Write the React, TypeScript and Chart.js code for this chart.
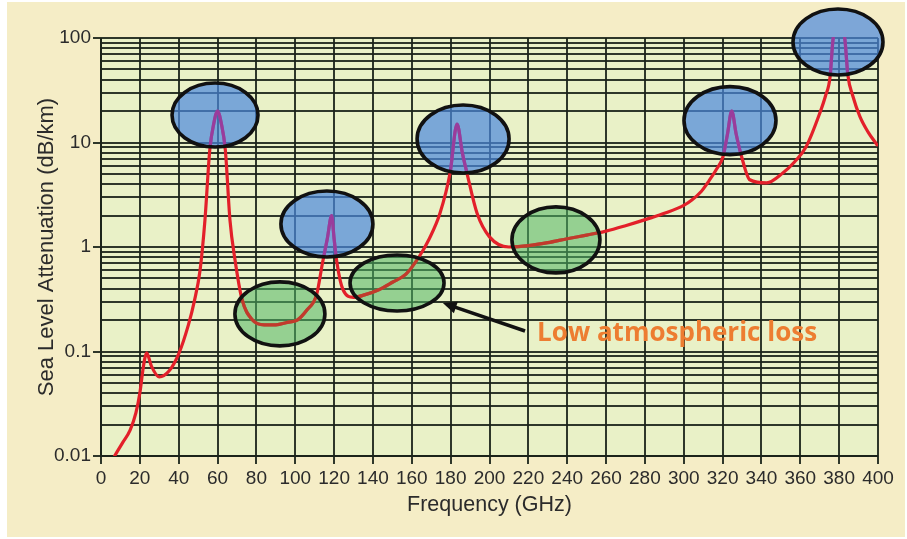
import { useEffect, useRef } from 'react';
import { Chart, registerables } from 'chart.js';

Chart.register(...registerables);

// Sea-level attenuation curve (frequency in GHz, attenuation in dB/km)
const frequencyGHz = [
  7, 11, 15, 18, 20, 21.5, 22.5, 23.5, 26, 30, 35,
  40, 45, 48, 51, 53.5, 56, 58, 60, 62, 64,
  66.4, 69, 72.5, 78, 84, 90, 96, 101, 106, 111,
  114, 116.5, 118.75, 120, 121.5, 124.6, 130, 136, 143, 150,
  157, 164, 169, 174.5, 179.7, 183.3, 186, 188.4, 193.6, 200,
  210, 220, 230, 240, 250, 260, 270, 283, 290, 300,
  304, 309, 313, 317, 320.2, 322.5, 324.7, 327, 329.8, 334, 342.7, 351,
  357, 363, 370, 373, 375.3, 376.8, 380, 383, 384.5, 387,
  390.7, 395, 399.5,
];
const attenuationDbKm = [
  0.01, 0.0133, 0.0177, 0.026, 0.04, 0.065, 0.085, 0.097, 0.072, 0.057, 0.065,
  0.095, 0.18, 0.3, 0.6, 1.8, 8.5, 15, 20, 15, 8.5,
  1.8, 0.75, 0.32, 0.2, 0.18, 0.18, 0.19, 0.2, 0.25, 0.35,
  0.7, 1.2, 2.0, 1.2, 0.7, 0.39, 0.33, 0.35, 0.39, 0.46,
  0.55, 0.82, 1.2, 2.1, 5.1, 15, 8, 5.1, 2.1, 1.25,
  1.0, 1.03, 1.1, 1.2, 1.3, 1.42, 1.6, 1.9, 2.1, 2.5,
  2.8, 3.4, 4.3, 5.6, 7.3, 12, 20, 12, 7.3, 4.4, 4.1, 5.1,
  6.5, 9.1, 19, 28, 42, 95, 180, 95, 44, 28,
  17.7, 12.5, 9.5,
];

// Axis ticks
const xMin = 0;
const xMax = 400;
const xStep = 20;
const yDecades = [0.01, 0.1, 1, 10];
const yDecadeSteps = [1, 2, 3, 4, 5, 6, 7, 8, 9];
const yTop = 100;
const yTickLabels = ['0.01', '0.1', '1', '10', '100'];

// Absorption peaks (blue) and transmission windows (green)
const peakGHz = [58.7, 116.3, 186.4, 323.8, 379.4];
const peakDb = [18.3, 1.66, 10.8, 16.2, 91.6];
const windowGHz = [92.1, 152.4, 234.2];
const windowDb = [0.229, 0.453, 1.17];

// Arrow pointing at a window, with its caption
const arrowTip = { ghz: 176, db: 0.291 };
const arrowTail = { ghz: 218.3, db: 0.157 };
const captionAt = { ghz: 224.5, db: 0.15 };
const captionText = 'Low atmospheric loss';

const gridColor = 'rgba(26,34,24,0.9)';
const textColor = '#2b2b2b';
const axisFont = 'Liberation Sans, Arial, sans-serif';

const yGridValues = [...yDecades.flatMap((d) => yDecadeSteps.map((s) => +(d * s).toPrecision(6))), yTop];

const isDecade = (v: number) => Math.abs(Math.log10(v) - Math.round(Math.log10(v))) < 1e-6;

const backdrop = {
  id: 'backdrop',
  beforeDraw(chart: any) {
    const { ctx, width, height, chartArea: a } = chart;
    ctx.save();
    ctx.fillStyle = '#ffffff';
    ctx.fillRect(0, 0, width, height);
    ctx.fillStyle = '#f5edc6';
    ctx.fillRect(7, 2, width - 9, height - 4);
    ctx.fillStyle = '#e9f1c7';
    ctx.fillRect(a.left, a.top, a.right - a.left, a.bottom - a.top);
    ctx.restore();
  },
};

const highlights = {
  id: 'highlights',
  afterDatasetsDraw(chart: any) {
    const { ctx, chartArea: a } = chart;
    const xs = chart.scales.x;
    const ys = chart.scales.y;
    const line = chart.getDatasetMeta(0).dataset;
    const spots = [
      ...windowGHz.map((g, i) => ({ g, d: windowDb[i], rx: [45, 47, 44][i], ry: [32, 28, 33][i], fill: 'rgba(80,180,100,0.55)', tint: '#c23a2c' })),
      ...peakGHz.map((g, i) => ({ g, d: peakDb[i], rx: [43, 46, 46, 46, 45][i], ry: [32, 33, 34, 34, 33][i], fill: 'rgba(74,136,222,0.7)', tint: '#9a3c9c' })),
    ];
    for (const s of spots) {
      const cx = xs.getPixelForValue(s.g);
      const cy = ys.getPixelForValue(s.d);
      ctx.save();
      ctx.beginPath();
      ctx.ellipse(cx, cy, s.rx, s.ry, 0, 0, Math.PI * 2);
      ctx.clip();
      ctx.fillStyle = s.fill;
      ctx.fill();
      ctx.beginPath();
      ctx.rect(a.left, a.top - 1, a.right - a.left, a.bottom - a.top + 2);
      ctx.clip();
      const orig = line.options.borderColor;
      line.options.borderColor = s.tint;
      line.draw(ctx, a);
      line.options.borderColor = orig;
      ctx.restore();

      ctx.save();
      ctx.beginPath();
      ctx.ellipse(cx, cy, s.rx, s.ry, 0, 0, Math.PI * 2);
      ctx.lineWidth = 3.6;
      ctx.strokeStyle = '#111111';
      ctx.stroke();
      ctx.restore();
    }

    // arrow and caption
    const tx = xs.getPixelForValue(arrowTip.ghz);
    const ty = ys.getPixelForValue(arrowTip.db);
    const sx = xs.getPixelForValue(arrowTail.ghz);
    const sy = ys.getPixelForValue(arrowTail.db);
    const ang = Math.atan2(ty - sy, tx - sx);
    const head = 15;
    ctx.save();
    ctx.strokeStyle = '#111111';
    ctx.fillStyle = '#111111';
    ctx.lineWidth = 3.5;
    ctx.beginPath();
    ctx.moveTo(sx, sy);
    ctx.lineTo(tx - Math.cos(ang) * head * 0.8, ty - Math.sin(ang) * head * 0.8);
    ctx.stroke();
    ctx.beginPath();
    ctx.moveTo(tx, ty);
    ctx.lineTo(tx - Math.cos(ang - 0.42) * head, ty - Math.sin(ang - 0.42) * head);
    ctx.lineTo(tx - Math.cos(ang + 0.42) * head, ty - Math.sin(ang + 0.42) * head);
    ctx.closePath();
    ctx.fill();

    ctx.font = 'bold 26px "Open Sans", sans-serif';
    ctx.fillStyle = '#ED7D31';
    ctx.textAlign = 'left';
    ctx.textBaseline = 'middle';
    ctx.fillText(captionText, xs.getPixelForValue(captionAt.ghz), ys.getPixelForValue(captionAt.db));
    ctx.restore();
  },
};

export default function App() {
  const canvasRef = useRef<HTMLCanvasElement>(null);

  useEffect(() => {
    const canvas = canvasRef.current;
    if (!canvas) return;
    const points = frequencyGHz.map((f, i) => ({ x: f, y: attenuationDbKm[i] }));
    const chart = new Chart(canvas, {
      type: 'line',
      data: {
        datasets: [
          {
            data: points,
            borderColor: '#e3202a',
            borderWidth: 3.2,
            pointRadius: 0,
            cubicInterpolationMode: 'monotone',
            borderCapStyle: 'round',
            borderJoinStyle: 'round',
          },
        ],
      },
      options: {
        responsive: false,
        animation: false,
        devicePixelRatio: 1,
        layout: { padding: { top: 38, right: 29, left: 0, bottom: 0 } },
        plugins: { legend: { display: false }, tooltip: { enabled: false } },
        scales: {
          x: {
            type: 'linear',
            min: xMin,
            max: xMax,
            afterFit: (s: any) => {
              s.height = 83;
            },
            ticks: {
              stepSize: xStep,
              autoSkip: false,
              maxRotation: 0,
              padding: 3,
              color: textColor,
              font: { family: axisFont, size: 19 },
            },
            grid: { color: gridColor, lineWidth: 2, tickLength: 8, tickColor: gridColor },
            border: { display: true, color: gridColor, width: 2 },
            title: {
              display: true,
              text: 'Frequency (GHz)',
              color: textColor,
              font: { family: axisFont, size: 21.5 },
              padding: { top: 0, bottom: 21 },
            },
          },
          y: {
            type: 'logarithmic',
            min: yDecades[0],
            max: yTop,
            afterFit: (s: any) => {
              s.width = 101;
            },
            afterBuildTicks: (s: any) => {
              s.ticks = yGridValues.map((v) => ({ value: v, major: isDecade(v) }));
            },
            ticks: {
              autoSkip: false,
              padding: 2,
              color: textColor,
              font: { family: axisFont, size: 19 },
              callback: (v: any) => {
                const n = Number(v);
                if (!isDecade(n)) return '';
                const idx = Math.round(Math.log10(n) - Math.log10(yDecades[0]));
                return yTickLabels[idx];
              },
            },
            grid: {
              color: gridColor,
              lineWidth: 2,
              tickLength: 8,
              tickColor: (c: any) => (c.tick && isDecade(c.tick.value) ? gridColor : 'rgba(0,0,0,0)'),
            },
            border: { display: true, color: gridColor, width: 2 },
            title: {
              display: true,
              text: 'Sea Level Attenuation (dB/km)',
              color: textColor,
              font: { family: axisFont, size: 22 },
              padding: { top: 34, bottom: 0 },
            },
          },
        },
      },
      plugins: [backdrop, highlights],
    } as any);
    return () => chart.destroy();
  }, []);

  return (
    <div style={{ position: 'fixed', left: 0, top: 0, width: 907, height: 539 }}>
      <canvas ref={canvasRef} width={907} height={539} style={{ display: 'block' }} />
    </div>
  );
}
